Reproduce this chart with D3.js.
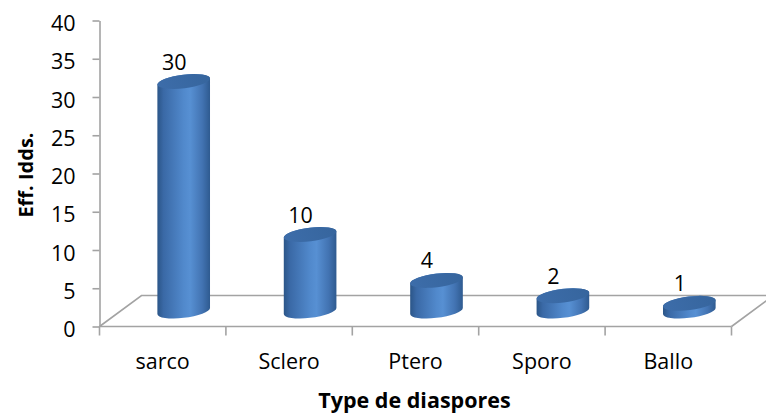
<!DOCTYPE html>
<html>
<head>
<meta charset="utf-8">
<script src="https://cdn.jsdelivr.net/npm/d3@7"></script>
<style>
  html, body { margin: 0; padding: 0; background: #fff; }
  svg { display: block; font-family: "Open Sans", "DejaVu Sans", sans-serif; }
</style>
</head>
<body>
<svg id="chart" width="766" height="418"></svg>
<script>
// Seed-dispersal types and their counts
const categories = ["sarco", "Sclero", "Ptero", "Sporo", "Ballo"];
const values = [30, 10, 4, 2, 1];
const yTicks = [0, 5, 10, 15, 20, 25, 30, 35, 40];
const xTitle = "Type de diaspores";
const yTitle = "Eff. Idds.";

const svg = d3.select("#chart");
const axisColor = "#a3a3a3";
const labelSize = 21.5;

// Front plane of the plot and the oblique depth offset of the floor
const plot = { left: 99.5, right: 731.5, top: 20.5, bottom: 326.5 };
const depth = { dx: 42, dy: -31 };

const x = d3.scaleBand().domain(categories).range([plot.left, plot.right]).padding(0);
const y = d3.scaleLinear().domain([0, 40]).range([plot.bottom, plot.top]);

// Floor of the 3D plot
const floor = svg.append("g").attr("stroke", axisColor).attr("stroke-width", 1.6).attr("fill", "none");
floor.append("path").attr("d", d3.line()([
  [plot.left, plot.bottom],
  [plot.left + depth.dx, plot.bottom + depth.dy],
  [plot.right + depth.dx, plot.bottom + depth.dy],
  [plot.right, plot.bottom]
]));

// Value axis
const yAxis = svg.append("g")
  .attr("transform", `translate(${plot.left},0)`)
  .call(d3.axisLeft(y).tickValues(yTicks).tickSize(7).tickPadding(17).tickSizeOuter(0));
yAxis.select(".domain").attr("stroke", axisColor).attr("stroke-width", 1.6);
yAxis.selectAll(".tick line").attr("stroke", axisColor).attr("stroke-width", 1.6);
yAxis.selectAll(".tick text")
  .attr("fill", "#000").attr("font-size", labelSize).attr("dy", 10)
  .style("font-family", "'Open Sans', sans-serif");

// Category axis: front floor edge with ticks at band boundaries
const bounds = categories.map(c => x(c)).concat([x.range()[1]]);
const xAxis = svg.append("g").attr("stroke", axisColor).attr("stroke-width", 1.6);
xAxis.append("line")
  .attr("x1", plot.left).attr("x2", plot.right)
  .attr("y1", plot.bottom).attr("y2", plot.bottom);
xAxis.selectAll("line.tk").data(bounds).join("line").attr("class", "tk")
  .attr("x1", d => d).attr("x2", d => d)
  .attr("y1", plot.bottom).attr("y2", plot.bottom + 9);

svg.append("g").selectAll("text").data(categories).join("text")
  .attr("x", d => x(d) + x.bandwidth() / 2)
  .attr("y", 368.5)
  .attr("text-anchor", "middle")
  .attr("font-size", labelSize)
  .text(d => d);

// Cylinders
const defs = svg.append("defs");
const rx = 26.5, ry = 6.8, rot = -7;          // ellipse shape of the cylinder cross-section
const th = rot * Math.PI / 180;
const t0 = Math.atan(-ry * Math.sin(th) / (rx * Math.cos(th)));
function ellPt(cx, cy, t) {
  return [cx + rx * Math.cos(t) * Math.cos(th) - ry * Math.sin(t) * Math.sin(th),
          cy + rx * Math.cos(t) * Math.sin(th) + ry * Math.sin(t) * Math.cos(th)];
}
function sidePts(cx, cy) {
  const a = ellPt(cx, cy, t0), b = ellPt(cx, cy, t0 + Math.PI);
  return a[0] < b[0] ? [a, b] : [b, a];
}

const bars = svg.append("g");
categories.forEach((c, i) => {
  const v = values[i];
  const cx = x(c) + x.bandwidth() / 2 + depth.dx / 2;
  const cyBase = y(0) + depth.dy / 2;
  const cyTop = y(v) + depth.dy / 2;

  const gid = "body" + i;
  const g = defs.append("linearGradient").attr("id", gid)
    .attr("gradientUnits", "userSpaceOnUse")
    .attr("x1", cx - rx).attr("x2", cx + rx).attr("y1", 0).attr("y2", 0);
  [[0, "#2b5587"], [0.12, "#3a69a6"], [0.5, "#5189cc"], [0.62, "#5790d3"], [0.85, "#4273b2"], [1, "#2e5a8f"]]
    .forEach(([o, col]) => g.append("stop").attr("offset", o).attr("stop-color", col));

  const tid = "top" + i;
  const tg = defs.append("linearGradient").attr("id", tid)
    .attr("gradientUnits", "userSpaceOnUse")
    .attr("x1", cx - rx).attr("x2", cx + rx).attr("y1", cyTop + ry).attr("y2", cyTop - ry);
  [[0, "#3d6daa"], [1, "#36659d"]]
    .forEach(([o, col]) => tg.append("stop").attr("offset", o).attr("stop-color", col));

  const [bl, br] = sidePts(cx, cyBase);
  const [tl, tr] = sidePts(cx, cyTop);
  const body = `M${tl[0]},${tl[1]} L${bl[0]},${bl[1]} A${rx},${ry} ${rot} 0 0 ${br[0]},${br[1]} ` +
               `L${tr[0]},${tr[1]} A${rx},${ry} ${rot} 0 0 ${tl[0]},${tl[1]} Z`;
  bars.append("path").attr("d", body).attr("fill", `url(#${gid})`);
  bars.append("ellipse")
    .attr("cx", cx).attr("cy", cyTop).attr("rx", rx).attr("ry", ry)
    .attr("transform", `rotate(${rot},${cx},${cyTop})`)
    .attr("fill", `url(#${tid})`);

  // value label above the cylinder
  bars.append("text")
    .attr("x", x(c) + x.bandwidth() / 2 + 11.5)
    .attr("y", cyTop - 12)
    .attr("text-anchor", "middle")
    .attr("font-size", labelSize)
    .text(v);
});

// Axis titles
svg.append("text")
  .attr("x", (plot.left + plot.right) / 2 - 1).attr("y", 408)
  .attr("text-anchor", "middle").attr("font-weight", "bold").attr("font-size", 21.5)
  .text(xTitle);
svg.append("text")
  .attr("transform", "translate(33,175) rotate(-90)")
  .attr("text-anchor", "middle").attr("font-weight", "bold").attr("font-size", 20)
  .text(yTitle);
</script>
</body>
</html>
